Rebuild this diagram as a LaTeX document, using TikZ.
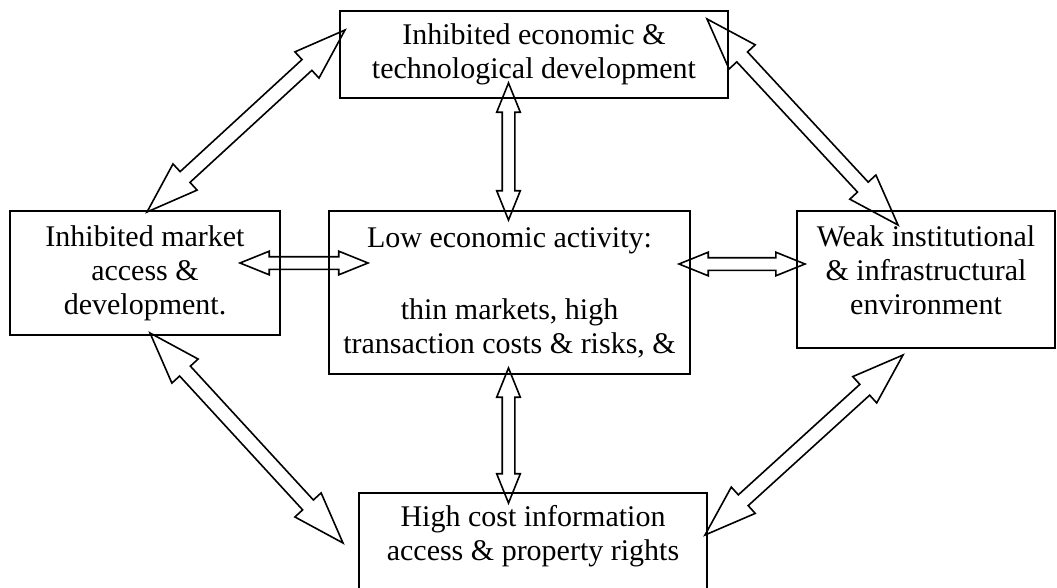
\documentclass[tikz,border=0pt]{standalone}
\usepackage{fontspec}
\setmainfont{Liberation Serif}
\usetikzlibrary{shapes.arrows,calc}

\pgfdeclarelayer{bg}
\pgfsetlayers{bg,main}

\tikzset{
	box/.style={draw, line width=2.2pt, align=center, inner sep=0pt, font=\fontsize{30}{34}\selectfont},
	dblarrow/.style={double arrow, draw, fill=white, line width=1.6pt, inner sep=5.5pt, double arrow head extend=5.5pt, double arrow tip angle=44},
	longarrow/.style={dblarrow, inner sep=6.5pt, double arrow head extend=10.5pt, double arrow tip angle=38}
}

\newcommand{\link}[3][dblarrow]{%
	\path let \p1=(#2), \p2=(#3), \n1={atan2(\y2-\y1,\x2-\x1)}, \n2={veclen(\x2-\x1,\y2-\y1)} in
		node [#1, rotate=\n1, minimum height=\n2] at ($(#2)!0.5!(#3)$) {};
}

\begin{document}
\begin{tikzpicture}[x=1pt, y=-1pt]
		\useasboundingbox (0,0) rectangle (1057,588);

		\draw (534,54.5) node [box, minimum width=388, minimum height=87] (tech) {Inhibited economic \&\\technological development};
		\draw (145,273) node [box, minimum width=270, minimum height=124] (market) {Inhibited market\\access \&\\development.};
		\draw (509.5,292.5) node [box, minimum width=361, minimum height=163] (low) {Low economic activity:\\[38pt]thin markets, high\\transaction costs \& risks, \&};
		\draw (926,279.5) node [box, minimum width=258, minimum height=137] (inst) {Weak institutional\\\& infrastructural\\environment\\[-16pt]~};
		\draw (533,550) node [box, minimum width=348, minimum height=114] (info) {High cost information\\access \& property rights\\~};

		\coordinate (tl1) at (345,30);   \coordinate (tl2) at (147,212);
		\coordinate (tr1) at (707,19);   \coordinate (tr2) at (898,225);
		\coordinate (ml1) at (240,263);  \coordinate (ml2) at (368,263);
		\coordinate (mr1) at (679,264);  \coordinate (mr2) at (805,264);
		\coordinate (vt1) at (508.5,83); \coordinate (vt2) at (508.5,220);
		\coordinate (vb1) at (508.5,368);\coordinate (vb2) at (508.5,503);
		\coordinate (bl1) at (150,333);  \coordinate (bl2) at (343,543);
		\coordinate (br1) at (903,355);  \coordinate (br2) at (705,535);

		\begin{pgfonlayer}{bg}
			\link[longarrow]{tl1}{tl2}
			\link[longarrow]{tr1}{tr2}
			\link{ml1}{ml2}
			\link{mr1}{mr2}
			\link{vt1}{vt2}
			\link{vb1}{vb2}
			\link[longarrow]{bl1}{bl2}
			\link[longarrow]{br1}{br2}
		\end{pgfonlayer}
	\end{tikzpicture}
\end{document}
